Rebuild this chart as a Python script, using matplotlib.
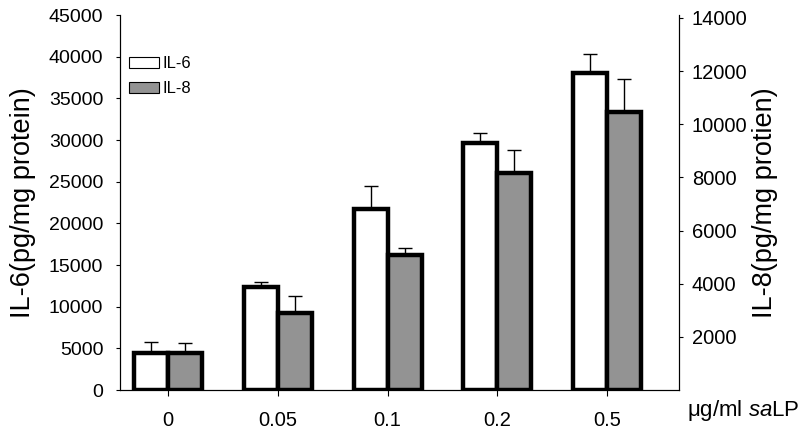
import numpy as np
import matplotlib
matplotlib.use('Agg')
import matplotlib.pyplot as plt

plt.rcParams['font.family'] = ['Liberation Sans', 'DejaVu Sans']
plt.rcParams['mathtext.fontset'] = 'custom'
plt.rcParams['mathtext.rm'] = 'Liberation Sans'
plt.rcParams['mathtext.it'] = 'Liberation Sans:italic'

doses = ['0', '0.05', '0.1', '0.2', '0.5']
il6 = [4500, 12400, 21700, 29600, 38100]
il6_err = [1300, 600, 2800, 1200, 2200]
il8 = [1400, 2900, 5100, 8150, 10450]
il8_err = [380, 650, 230, 870, 1250]

x = np.arange(len(doses))
w = 0.31

fig = plt.figure(figsize=(8, 4.33), dpi=100)
ax = fig.add_axes([0.15, 0.099, 0.699, 0.866])
ax2 = ax.twinx()

ax.bar(x - w/2, il6, w, color='white', edgecolor='black', linewidth=3.2, zorder=3, label='IL-6')
ax.errorbar(x - w/2, il6, yerr=[np.zeros(5), il6_err], fmt='none', ecolor='black',
            elinewidth=1, capsize=5, capthick=1, zorder=2)
ax2.bar(x + w/2, il8, w, color='#939393', edgecolor='black', linewidth=3.2, zorder=3, label='IL-8')
ax2.errorbar(x + w/2, il8, yerr=[np.zeros(5), il8_err], fmt='none', ecolor='black',
             elinewidth=1, capsize=5, capthick=1, zorder=2)

ax.set_xlim(-0.44, 4.66)
ax.set_ylim(0, 45000)
ax2.set_ylim(0, 14100)
ax.set_yticks(np.arange(0, 45001, 5000))
ax2.set_yticks(np.arange(2000, 14001, 2000))
ax.set_xticks(x)
ax.set_xticklabels(doses)

for a in (ax, ax2):
    a.spines['top'].set_visible(False)
    for s in a.spines.values():
        s.set_linewidth(0.8)
ax.tick_params(axis='y', labelsize=14, length=3, width=0.8, pad=9)
ax2.tick_params(axis='y', labelsize=14.5, length=3, width=0.8, pad=6)
ax.tick_params(axis='x', labelsize=14.5, length=4, width=0.8, pad=11)

ax.set_ylabel('IL-6(pg/mg protein)', fontsize=19.5, labelpad=9)
ax2.set_ylabel('IL-8(pg/mg protien)', fontsize=19.5, labelpad=3)
fig.text(0.859, 0.053, r'μg/ml $\mathit{sa}$LP', fontsize=16, va='center', ha='left')

h1, l1 = ax.get_legend_handles_labels()
h2, l2 = ax2.get_legend_handles_labels()
leg = ax.legend(h1 + h2, l1 + l2, loc='upper left', bbox_to_anchor=(-0.01, 0.93),
                frameon=False, fontsize=12, handlelength=1.8, handleheight=0.6,
                handletextpad=0.2, labelspacing=0.6)
for p in leg.get_patches():
    p.set_linewidth(0.8)

plt.savefig('out.png', dpi=100)
